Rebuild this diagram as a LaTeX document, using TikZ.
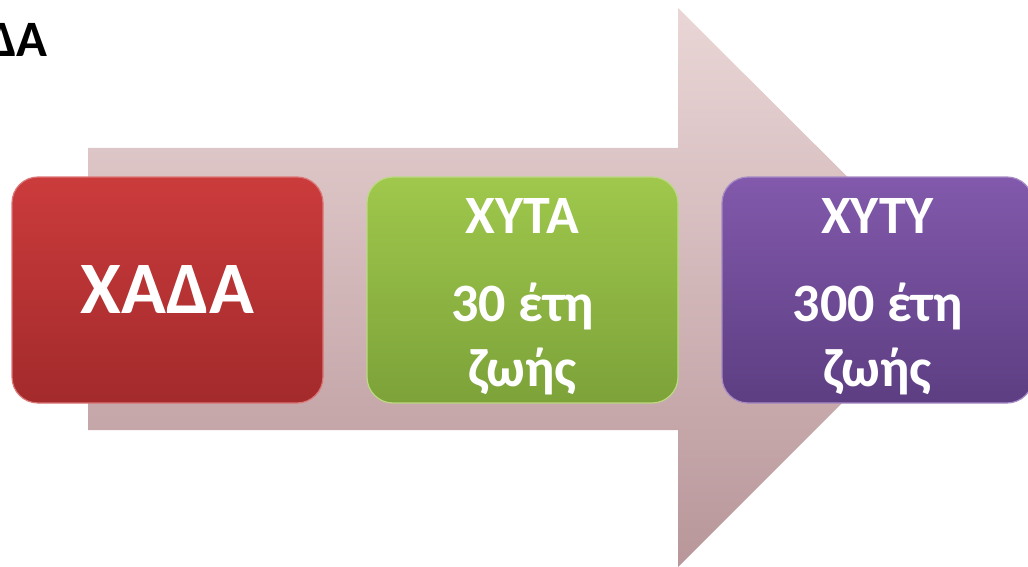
\documentclass[tikz,border=0pt]{standalone}
\usepackage{fontspec}
\setmainfont{Carlito}
\definecolor{arrowtop}{HTML}{EAD6D6}
\definecolor{arrowbot}{HTML}{B8969A}
\definecolor{redtop}{HTML}{CB3B3C}
\definecolor{redbot}{HTML}{A32A2B}
\definecolor{greentop}{HTML}{9FC84C}
\definecolor{greenbot}{HTML}{7CA239}
\definecolor{purptop}{HTML}{8259AC}
\definecolor{purpbot}{HTML}{5D3E82}
\tikzset{
  box/.style={rounded corners=26pt, minimum width=311pt, minimum height=226pt, inner sep=0pt, line width=1.2pt},
  boxtext/.style={text=white, font=\bfseries\fontsize{54}{54}\selectfont, anchor=base, inner sep=0pt},
}
\begin{document}
\begin{tikzpicture}[x=1pt,y=-1pt]
\useasboundingbox (0,0) rectangle (1028,567);
\shade[top color=arrowtop, bottom color=arrowbot]
  (88,148) -- (678,148) -- (678,8) -- (958,287) -- (678,567) -- (678,430) -- (88,430) -- cycle;
\node[anchor=base west, inner sep=0pt, font=\bfseries\fontsize{51}{51}\selectfont] (title) at (-13,57) {ΔΑ};
\node[box, top color=redtop, bottom color=redbot, draw=redtop!70!white] (red) at (167.5,290) {};
\node[box, top color=greentop, bottom color=greenbot, draw=greentop!70!white] (green) at (522.5,290) {};
\node[box, top color=purptop, bottom color=purpbot, draw=purptop!70!white] (purple) at (877.5,290) {};
\node[boxtext, font=\bfseries\fontsize{74}{74}\selectfont] (t1) at (red.center) [yshift=-23pt] {ΧΑΔΑ};
\node[boxtext] (g1) at (522.5,233) {ΧΥΤΑ};
\node[boxtext] (g2) at (522.5,321) {30 έτη};
\node[boxtext] (g3) at (522.5,386) {ζωής};
\node[boxtext] (p1) at (877.5,233) {ΧΥΤΥ};
\node[boxtext] (p2) at (877.5,321) {300 έτη};
\node[boxtext] (p3) at (877.5,386) {ζωής};
\end{tikzpicture}
\end{document}
